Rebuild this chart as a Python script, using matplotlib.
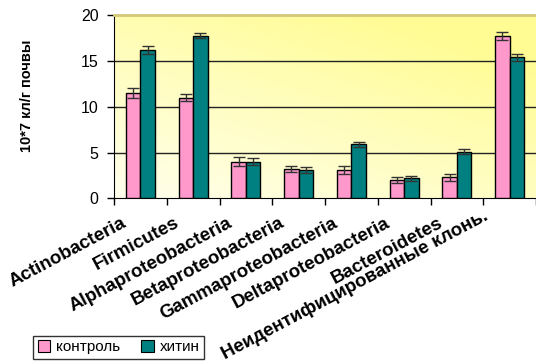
import numpy as np
import matplotlib
matplotlib.use("Agg")
import matplotlib.pyplot as plt
from matplotlib.patches import Patch
from matplotlib.transforms import ScaledTranslation

plt.rcParams['font.family'] = ['Liberation Sans', 'DejaVu Sans']

categories = ["Actinobacteria", "Firmicutes", "Alphaproteobacteria", "Betaproteobacteria",
              "Gammaproteobacteria", "Deltaproteobacteria", "Bacteroidetes",
              "Неидентифицированные клонь."]
control = [11.5, 11.0, 4.0, 3.2, 3.1, 2.0, 2.3, 17.75]
chitin = [16.2, 17.75, 4.0, 3.1, 5.9, 2.2, 5.1, 15.4]
control_err = [0.5, 0.4, 0.5, 0.35, 0.45, 0.35, 0.4, 0.45]
chitin_err = [0.4, 0.25, 0.4, 0.3, 0.3, 0.25, 0.3, 0.4]
series_names = ["контроль", "хитин"]
yticks = [0, 5, 10, 15, 20]

pink = "#FF99CC"
teal = "#008080"

fig = plt.figure(figsize=(5.36, 3.64), dpi=100)
ax = fig.add_axes([114/536, 1 - 198.5/364, 422/536, (198.5 - 15)/364])

# yellow gradient background: pale bottom-left, stronger yellow top-right
n = 200
gx, gy = np.meshgrid(np.linspace(0, 1, n), np.linspace(0, 1, n))
t = np.clip((gx * 0.55 + gy * 0.75) / 1.1, 0, 1)
c0 = np.array([1.0, 1.0, 0.93])
c1 = np.array([1.0, 0.99, 0.58])
img = c0[None, None, :] * (1 - t[..., None]) + c1[None, None, :] * t[..., None]
ax.imshow(img, extent=[0, 1, 0, 1], transform=ax.transAxes, origin='lower',
          aspect='auto', zorder=0, interpolation='bilinear')

x = np.arange(len(categories))
w = 0.275
ekw = dict(ecolor="#333333", elinewidth=1.0, capsize=4, capthick=1.0)
ax.bar(x - w/2, control, w, color=pink, edgecolor="black", linewidth=1.0,
       yerr=control_err, error_kw=ekw, zorder=3)
ax.bar(x + w/2, chitin, w, color=teal, edgecolor="black", linewidth=1.0,
       yerr=chitin_err, error_kw=ekw, zorder=3)

ax.set_xlim(-0.5, len(categories) - 0.5)
ax.set_ylim(0, 20)
ax.set_yticks(yticks)
ax.set_yticklabels([str(v) for v in yticks], fontsize=11.5)
for v in yticks[1:-1]:
    ax.axhline(v, color="#222222", linewidth=1.0, zorder=1)

ax.set_xticks(np.arange(len(categories) + 1) - 0.5)
ax.set_xticklabels([])
ax.tick_params(axis='x', direction='out', length=5, width=1, color='black')
ax.tick_params(axis='y', direction='out', length=5, width=1, color='black', pad=6)

ax.spines['right'].set_visible(False)
ax.spines['top'].set_color("#D2C878")
ax.spines['top'].set_linewidth(2)
ax.spines['left'].set_color("black")
ax.spines['bottom'].set_color("black")

# rotated category labels; the long last label sits a little further left/up
for i, name in enumerate(categories):
    dx, dy = (-19, -16) if i < len(categories) - 1 else (-27, -9)
    offset = ScaledTranslation(dx/100, dy/100, fig.dpi_scale_trans)
    ax.text(i, 0, name, transform=ax.transData + offset, rotation=28,
            rotation_mode='anchor', ha='right', va='top', fontsize=13.5,
            fontweight='bold', clip_on=False)

fig.text(27/536, 1 - 96/364, "10*7 кл/г почвы", rotation=90, ha='center',
         va='center', fontsize=10.5, fontweight='bold')

handles = [Patch(facecolor=pink, edgecolor='black', linewidth=0.8),
           Patch(facecolor=teal, edgecolor='black', linewidth=0.8)]
fig.legend(handles, series_names, loc='lower left',
           bbox_to_anchor=(33/536, 1 - 359/364), ncol=2, frameon=True,
           fancybox=False, edgecolor='black', fontsize=11,
           handlelength=0.8, handleheight=0.8, handletextpad=0.4,
           columnspacing=1.4, borderpad=0.3, borderaxespad=0)

fig.savefig("out.png", dpi=100)
